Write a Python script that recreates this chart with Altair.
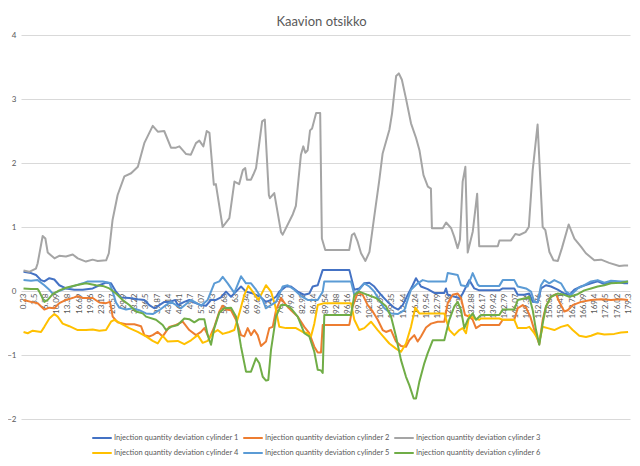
import altair as alt
import pandas as pd

# ---- data ----
series_names = [
    "Injection quantity deviation cylinder 1",
    "Injection quantity deviation cylinder 2",
    "Injection quantity deviation cylinder 3",
    "Injection quantity deviation cylinder 4",
    "Injection quantity deviation cylinder 5",
    "Injection quantity deviation cylinder 6",
]
series_colors = ["#4472C4", "#ED7D31", "#A5A5A5", "#FFC000", "#5B9BD5", "#70AD47"]

x_tick_labels = [0.23, 3.5, 6.78, 10.09, 13.38, 16.69, 19.96, 23.19, 26.57, 29.9, 33.22,
                 36.5, 39.87, 43.14, 46.41, 49.7, 53.07, 56.33, 59.68, 63, 66.34, 69.62,
                 72.9, 76.26, 79.6, 82.92, 86.24, 89.54, 92.88, 96.16, 99.51, 102.82,
                 106.05, 109.35, 112.64, 116.24, 119.54, 122.79, 126.08, 129.32, 132.88,
                 136.17, 139.42, 142.79, 146.07, 149.36, 152.76, 156.04, 159.41, 162.72,
                 166.09, 169.4, 172.65, 176.02, 179.3]
y_tick_labels = [-2, -1, 0, 1, 2, 3, 4]

t1 = [0.23, 2.45, 3.93, 5.41, 6.39, 7.87, 9.35, 10.83, 12.81, 15.27, 17.76, 20.72, 22.68, 24.66,
      26.14, 27.62, 29.1, 31.56, 34.05, 36.01, 37.49, 38.97, 40.45, 41.93, 43.41, 45.19, 45.9,
      47.85, 49.33, 50.81, 52.8, 54.28, 55.76, 57.24, 58.72, 60.21, 61.69, 63.17, 64.65, 66.13,
      67.61, 69.09, 70.57, 72.05, 73.53, 75.02, 76.0, 77.98, 79.46, 81.44, 83.4, 84.88, 85.89,
      87.37, 88.85, 96.73, 98.21, 99.69, 101.17, 102.65, 104.13, 106.12, 108.1, 110.05, 111.24,
      112.54, 114.02, 115.5, 116.48, 117.96, 119.95, 121.9, 124.87, 125.37, 125.87, 129.31,
      130.32, 132.27, 133.75, 135.23, 141.16, 142.17, 145.6, 146.61, 148.56, 150.04, 151.05,
      152.53, 153.51, 154.99, 156.47, 158.45, 160.41, 161.89, 163.37, 165.36, 168.32, 170.3,
      172.26, 175.22, 178.19, 179.3]
v1 = [0.30, 0.28, 0.25, 0.17, 0.15, 0.20, 0.18, 0.09, 0.04, 0.02, 0.02, 0.04, 0.09, 0.13,
      0.12, -0.01, -0.10, -0.11, -0.13, -0.14, -0.22, -0.27, -0.22, -0.17, -0.17, -0.14, -0.22,
      -0.17, -0.14, -0.18, -0.22, -0.23, -0.14, -0.14, -0.10, -0.01, -0.09, -0.01, 0.07, -0.01,
      -0.03, -0.06, -0.10, -0.17, -0.14, -0.09, -0.01, 0.07, 0.07, -0.01, -0.06, -0.04, 0.07,
      0.09, 0.33, 0.33, 0.02, 0.04, 0.12, 0.13, 0.07, -0.06, -0.17, -0.26, -0.29,
      -0.22, -0.06, 0.09, 0.20, 0.07, 0.03, -0.03, -0.03, 0.04, -0.06, -0.11,
      -0.04, 0.17, 0.04, 0.01, 0.01, 0.04, 0.04, -0.06, -0.06, -0.04, -0.17,
      -0.18, 0.04, 0.09, 0.07, 0.02, -0.04, -0.06, 0.02, 0.07, 0.12, 0.15,
      0.11, 0.15, 0.12, 0.12]

t2 = [0.23, 2.45, 4.43, 6.39, 7.87, 9.35, 10.83, 12.81, 15.27, 16.28, 17.76, 20.72, 22.68, 24.66,
      25.85, 26.64, 28.13, 30.59, 33.04, 35.03, 36.01, 37.49, 38.49, 39.97, 41.45, 43.41, 45.4,
      47.38, 49.33, 51.32, 52.8, 53.78, 55.26, 56.74, 58.22, 59.23, 60.21, 61.69, 63.17, 64.65,
      65.63, 66.63, 67.61, 68.59, 69.59, 70.57, 72.05, 73.03, 74.04, 75.02, 76.5, 77.98, 79.46,
      81.44, 83.4, 84.88, 86.36, 87.37, 88.34, 88.85, 96.73, 97.73, 99.21, 100.7, 102.17,
      103.66, 105.14, 106.62, 107.6, 109.08, 110.56, 112.04, 113.52, 114.5, 115.98, 116.98,
      117.96, 119.45, 120.93, 122.91, 124.87, 125.87, 127.35, 128.83, 129.81, 131.0, 132.27,
      133.28, 134.26, 135.74, 141.16, 142.17, 145.6, 146.61, 148.09, 149.07, 150.34, 151.52,
      153.0, 154.01, 154.99, 156.47, 157.95, 158.93, 160.41, 161.42, 162.9, 165.36, 168.32,
      171.28, 174.24, 177.2, 179.3]
v2 = [-0.14, -0.17, -0.19, -0.29, -0.26, -0.27, -0.19, -0.14, -0.10, -0.08, -0.11, -0.11, -0.18,
      -0.19, -0.17, -0.40, -0.49, -0.52, -0.52, -0.55, -0.69, -0.71, -0.69, -0.64, -0.71, -0.56,
      -0.53, -0.48, -0.61, -0.69, -0.64, -0.58, -0.74, -0.56, -0.32, -0.23, -0.29, -0.30, -0.45,
      -0.69, -0.71, -0.58, -0.69, -0.61, -0.69, -0.86, -0.79, -0.58, -0.56, -0.30, -0.11, -0.22,
      -0.30, -0.40, -0.56, -0.66, -0.87, -0.96, -0.96, -0.53, -0.53, -0.24, -0.03, -0.06, -0.22,
      -0.32, -0.45, -0.61, -0.64, -0.61, -0.79, -0.86, -0.87, -0.77, -0.69, -0.79,
      -0.71, -0.57, -0.51, -0.48, -0.48, -0.19, -0.06, -0.04, -0.11, -0.375, -0.40,
      -0.45, -0.58, -0.53, -0.53, -0.45, -0.45, -0.27, -0.22, -0.26, -0.40, -0.61,
      -0.83, -0.45, -0.24, -0.09, -0.05, -0.17, -0.32, -0.30, -0.22, -0.17, -0.14,
      -0.13, -0.14, -0.13, -0.14]

t3 = [0.23, 1.9, 3.9, 4.4, 5.9, 6.7, 7.4, 9.4, 10.8, 12.8, 14.8, 16.3, 18.7, 20.7, 22.2, 24.7,
      25.5, 26.6, 28.1, 30.1, 32.1, 34.1, 36.0, 38.5, 40.0, 41.9, 43.9, 45.4, 46.4, 48.4, 49.8,
      51.3, 52.3, 53.5, 54.5, 55.3, 56.6, 57.2, 59.2, 61.2, 62.7, 64.1, 65.2, 65.9, 66.4, 67.6,
      68.3, 69.1, 70.9, 71.7, 72.9, 73.2, 74.5, 76.5, 77.0, 80.0, 80.9, 82.4, 83.1, 83.7, 84.4,
      85.1, 85.7, 86.9, 88.1, 88.6, 89.6, 96.7, 97.5, 98.2, 99.2, 100.2, 101.5, 102.7, 104.1,
      105.6, 106.6, 108.6, 109.4, 110.6, 111.4, 112.3, 113.5, 115.0, 116.5, 117.5, 118.7,
      120.0, 120.9, 121.2, 124.4, 125.4, 126.9, 127.8, 128.8, 129.5, 130.3, 131.1, 131.8,
      133.3, 134.6, 135.2, 140.7, 141.2, 144.6, 145.9, 147.1, 148.9, 149.9, 151.05, 152.5,
      154.0, 154.8, 156.0, 157.2, 158.5, 159.7, 161.7, 163.4, 165.4, 166.8, 169.3, 171.3,
      173.7, 176.7, 178.2, 179.3]
v3 = [0.32, 0.30, 0.35, 0.43, 0.86, 0.82, 0.60, 0.51, 0.55, 0.54, 0.57, 0.51, 0.46, 0.49, 0.47,
      0.48, 0.59, 1.11, 1.50, 1.79, 1.84, 1.94, 2.31, 2.58, 2.49, 2.50, 2.24, 2.24, 2.26, 2.14,
      2.13, 2.31, 2.35, 2.26, 2.50, 2.47, 1.66, 1.67, 1.00, 1.14, 1.71, 1.67, 1.89, 1.92, 1.74,
      1.74, 1.82, 1.92, 2.65, 2.68, 1.50, 1.45, 1.53, 0.92, 0.88, 1.20, 1.33, 2.13, 2.26, 2.16,
      2.20, 2.51, 2.54, 2.78, 2.78, 0.82, 0.64, 0.64, 0.875, 0.90, 0.77, 0.59, 0.47, 0.61, 1.16,
      1.73, 2.15, 2.52, 2.78, 3.36, 3.40, 3.30, 3.01, 2.62, 2.39, 2.20, 1.81,
      1.63, 1.60, 0.98, 0.98, 1.07, 0.98, 0.85, 0.67, 0.80, 1.71, 1.94, 0.60,
      0.93, 1.52, 0.70, 0.70, 0.79, 0.79, 0.89, 0.875, 0.92, 1.00, 1.89, 2.60,
      1.00, 0.95, 0.61, 0.48, 0.47, 0.67, 1.04, 0.82, 0.69, 0.59, 0.48, 0.49,
      0.44, 0.39, 0.40, 0.40]

t4 = [0.23, 1.47, 2.95, 5.41, 6.39, 7.87, 9.35, 10.35, 11.83, 13.79, 16.28, 18.74, 20.72, 22.68,
      24.66, 26.14, 27.12, 29.1, 31.56, 34.05, 36.51, 38.49, 39.97, 41.45, 42.94, 45.9, 47.85,
      49.84, 51.82, 53.3, 54.78, 56.26, 57.74, 59.23, 61.18, 62.66, 64.14, 65.63, 66.81, 68.11,
      69.77, 71.08, 72.05, 73.53, 74.72, 76.0, 77.98, 80.94, 82.92, 84.4, 85.38, 86.36, 87.37,
      89.32, 97.23, 98.21, 99.69, 101.17, 103.15, 105.14, 106.62, 108.58, 110.56, 112.04,
      113.52, 115.0, 116.28, 117.46, 124.87, 126.35, 127.83, 129.31, 130.32, 131.29, 132.27,
      133.75, 135.23, 135.74, 141.16, 142.17, 145.6, 146.61, 149.07, 150.04, 151.52, 153.0,
      154.01, 155.49, 157.45, 159.43, 161.42, 162.9, 164.85, 166.84, 168.32, 170.3, 172.26,
      175.22, 177.2, 179.3]
v4 = [-0.64, -0.66, -0.62, -0.64, -0.56, -0.43, -0.36, -0.40, -0.51, -0.55, -0.61, -0.61, -0.60,
      -0.62, -0.61, -0.48, -0.45, -0.51, -0.58, -0.64, -0.71, -0.78, -0.82, -0.70, -0.79, -0.78,
      -0.83, -0.77, -0.69, -0.81, -0.78, -0.66, -0.61, -0.67, -0.64, -0.61, -0.35, -0.06, 0.08,
      -0.01, -0.14, -0.01, 0.09, -0.01, -0.22, -0.56, -0.58, -0.58, -0.64, -0.66, -0.71, -0.51,
      -0.22, -0.19, -0.19, -0.45, -0.61, -0.58, -0.48, -0.61, -0.70, -0.82, -0.90, -0.95,
      -0.82, -0.56, -0.26, -0.35, -0.35, -0.61, -0.69, -0.61, -0.58, -0.66, -0.375,
      -0.43, -0.45, -0.43, -0.43, -0.45, -0.45, -0.58, -0.58, -0.56, -0.66, -0.79,
      -0.56, -0.58, -0.61, -0.56, -0.53, -0.61, -0.70, -0.72, -0.70, -0.66, -0.68,
      -0.67, -0.65, -0.64]

t5 = [0.23, 2.45, 4.43, 6.39, 7.87, 8.87, 10.35, 12.81, 15.27, 17.76, 19.25, 21.7, 23.68, 25.64,
      26.64, 27.62, 28.6, 30.59, 32.57, 34.52, 36.51, 38.49, 40.45, 42.43, 43.91, 46.88, 49.84,
      52.8, 54.78, 56.74, 58.22, 59.23, 60.71, 62.66, 64.65, 66.13, 67.61, 69.09, 71.08, 72.05,
      73.53, 75.02, 77.0, 78.48, 80.43, 82.42, 84.4, 87.37, 88.85, 89.32, 97.23, 98.21, 99.69,
      101.17, 102.65, 104.13, 105.61, 107.1, 109.08, 111.06, 113.02, 115.0, 116.98, 118.47,
      119.95, 125.37, 125.87, 128.83, 129.81, 131.79, 133.28, 134.76, 135.23, 141.16, 142.17,
      145.6, 146.61, 149.07, 150.55, 151.52, 152.53, 153.51, 154.48, 155.96, 157.45, 159.43,
      160.91, 162.39, 164.38, 166.34, 168.32, 170.3, 172.26, 174.24, 177.2, 179.3]
v5 = [0.17, 0.16, 0.17, 0.09, 0.02, -0.04, -0.01, 0.04, 0.08, 0.12, 0.15, 0.15, 0.15, 0.13,
      -0.01, -0.18, -0.26, -0.29, -0.27, -0.30, -0.35, -0.36, -0.30, -0.22, -0.17, -0.27, -0.14,
      -0.23, -0.14, 0.12, 0.15, 0.22, 0.12, -0.03, 0.23, 0.12, 0.12, 0.02, -0.14, -0.27,
      -0.22, -0.17, 0.07, 0.09, 0.02, -0.08, -0.14, -0.14, -0.01, 0.15, 0.15, -0.06, 0.02,
      0.12, 0.07, -0.01, -0.14, -0.27, -0.35, -0.36, -0.30, 0.02, 0.12, 0.17,
      0.15, 0.15, 0.28, 0.25, 0.09, 0.07, 0.28, 0.10, 0.08, 0.08, 0.17,
      0.17, 0.07, 0.04, -0.01, -0.17, -0.17, 0.09, 0.17, 0.12, 0.17, 0.12,
      -0.01, -0.06, 0.04, 0.09, 0.15, 0.17, 0.13, 0.16, 0.15, 0.15]

t6 = [0.23, 2.45, 4.43, 4.9, 6.39, 7.39, 8.87, 10.83, 12.81, 15.78, 18.74, 21.7, 23.68, 25.64,
      27.62, 29.61, 31.56, 33.55, 35.53, 36.51, 39.47, 41.45, 42.43, 43.91, 45.9, 47.85, 49.33,
      50.81, 52.29, 53.78, 54.78, 55.76, 56.74, 58.22, 59.7, 61.69, 63.17, 64.65, 66.13, 67.61,
      69.09, 70.07, 71.08, 72.05, 72.73, 73.53, 75.02, 76.5, 77.98, 79.46, 81.44, 83.4, 84.88,
      86.36, 87.37, 88.34, 88.85, 89.32, 97.23, 98.21, 99.69, 101.17, 103.15, 104.64, 106.12,
      107.6, 109.08, 110.56, 112.04, 113.52, 114.5, 115.8, 116.48, 117.46, 118.94, 119.95,
      121.43, 124.87, 126.35, 127.83, 128.83, 129.81, 130.79, 131.79, 133.28, 134.26, 135.74,
      141.16, 142.17, 145.6, 146.61, 149.07, 150.04, 151.05, 152.03, 153.0, 154.01, 154.99,
      156.47, 158.45, 160.41, 161.89, 164.38, 166.34, 168.32, 170.3, 172.26, 174.24, 177.2,
      179.3]
v6 = [0.04, 0.03, 0.03, -0.01, -0.17, -0.14, -0.05, 0.01, 0.05, 0.09, 0.12, 0.09, 0.08, 0.04,
      -0.04, -0.14, -0.22, -0.32, -0.35, -0.40, -0.45, -0.53, -0.61, -0.56, -0.53, -0.43, -0.44,
      -0.49, -0.44, -0.44, -0.69, -0.84, -0.58, -0.34, -0.27, -0.26, -0.40, -0.87, -1.26, -1.26,
      -1.05, -1.13, -1.34, -1.40, -1.39, -0.92, -0.40, -0.22, -0.22, -0.27, -0.40, -0.66, -0.71,
      -0.95, -1.23, -1.24, -1.28, -0.375, -0.375, -0.06, -0.01, -0.04, -0.08, -0.11, -0.17,
      -0.24, -0.40, -0.71, -1.08, -1.34, -1.47, -1.68, -1.68, -1.42, -1.13, -0.97,
      -0.77, -0.77, -0.45, -0.24, -0.17, -0.30, -0.58, -0.45, -0.35, -0.45, -0.375,
      -0.375, -0.29, -0.29, -0.14, -0.11, -0.09, -0.30, -0.61, -0.84, -0.51, -0.24,
      -0.09, -0.04, -0.06, -0.09, -0.05, 0.01, 0.04, 0.07, 0.09, 0.12, 0.13,
      0.15]

times = [t1, t2, t3, t4, t5, t6]
values = [v1, v2, v3, v4, v5, v6]

frames = []
for name, ts, vs in zip(series_names, times, values):
    frames.append(pd.DataFrame({"series": name, "time": ts, "value": vs}))
df = pd.concat(frames, ignore_index=True)

FONT = "Lato"
GREY = "#595959"

chart = (
    alt.Chart(df)
    .mark_line(strokeWidth=2, strokeJoin="round")
    .encode(
        x=alt.X(
            "time:Q",
            scale=alt.Scale(domain=[-0.52, 179.87], nice=False, zero=False),
            axis=alt.Axis(
                title=None,
                values=x_tick_labels,
                labelExpr="toString(datum.value)",
                labelAngle=270,
                labelFontSize=8,
                labelColor=GREY,
                labelFont=FONT,
                labelPadding=2,
                labelOverlap=False,
                labelBound=False,
                labelFlush=False,
                ticks=False,
                domain=False,
                grid=False,
                offset=-128,
            ),
        ),
        y=alt.Y(
            "value:Q",
            scale=alt.Scale(domain=[-2, 4], nice=False),
            axis=alt.Axis(
                title=None,
                values=y_tick_labels,
                labelFontSize=8,
                labelColor=GREY,
                labelFont=FONT,
                labelPadding=5,
                ticks=False,
                domain=False,
                grid=True,
                gridColor="#D9D9D9",
                gridWidth=1,
            ),
        ),
        color=alt.Color(
            "series:N",
            scale=alt.Scale(domain=series_names, range=series_colors),
            legend=alt.Legend(
                title=None,
                orient="none",
                direction="horizontal",
                legendX=70,
                legendY=392,
                columns=3,
                symbolType="stroke",
                symbolSize=380,
                symbolStrokeWidth=2,
                labelFontSize=7.5,
                labelFont=FONT,
                labelColor=GREY,
                labelOffset=1,
                columnPadding=0,
                rowPadding=-4,
                padding=0,
                labelLimit=300,
            ),
        ),
        order=alt.Order("time:Q"),
    )
    .properties(
        width=609,
        height=384,
        title=alt.TitleParams(
            "Kaavion otsikko",
            font=FONT,
            fontSize=13,
            fontWeight="normal",
            color=GREY,
            anchor="middle",
            frame="group",
            baseline="alphabetic",
            offset=10,
            dx=-4,
            dy=18,
        ),
        autosize=alt.AutoSizeParams(type="none"),
        padding={"left": 13, "top": 27, "right": 2, "bottom": 39},
        background="white",
    )
    .configure_view(stroke=None)
)

chart.save("out.html", embed_options={"renderer": "svg", "actions": False})
